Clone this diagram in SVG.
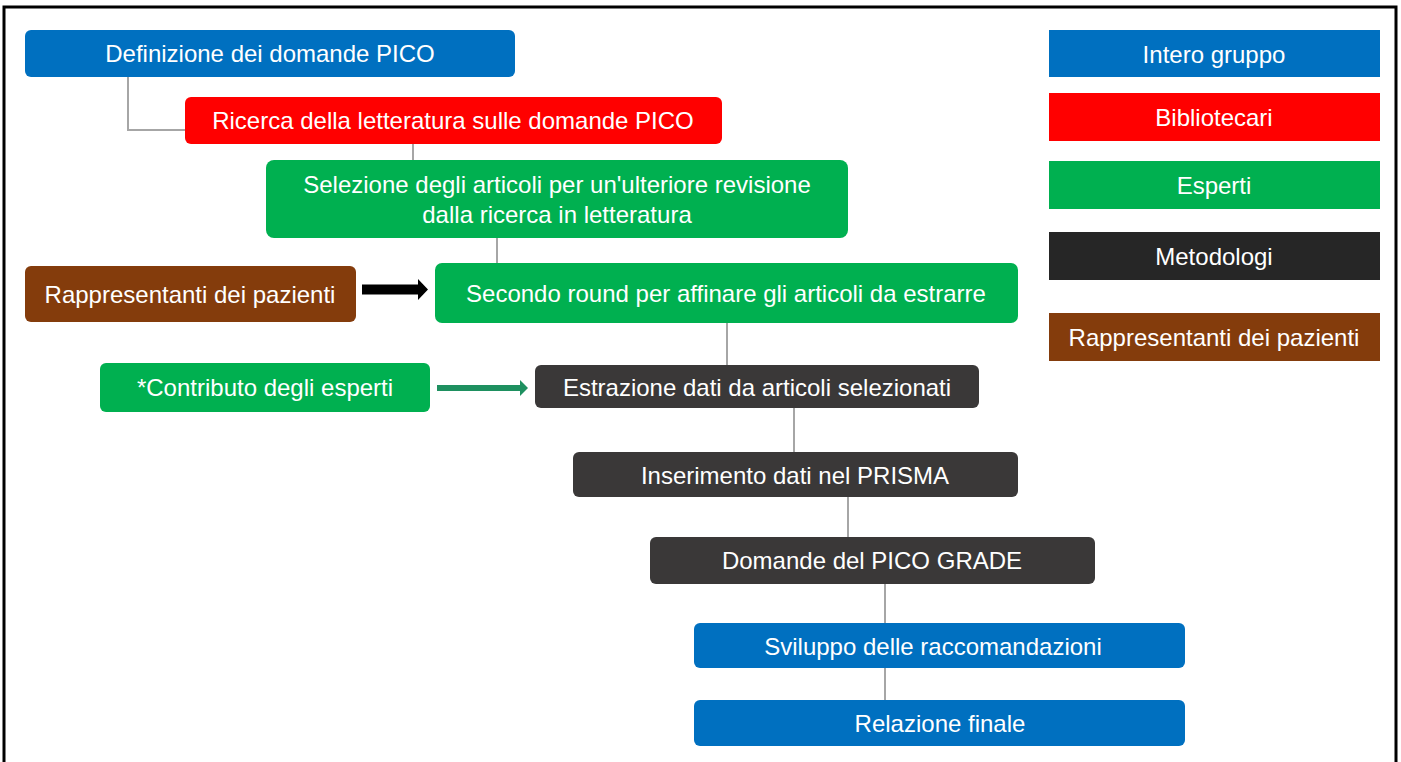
<svg xmlns="http://www.w3.org/2000/svg" width="1401" height="762" viewBox="0 0 1401 762">
<defs>
<style>
text{font-family:"Liberation Sans",Arial,sans-serif;font-size:24px;fill:#ffffff;text-anchor:middle;dominant-baseline:central}
.blue{fill:#0070c0}.red{fill:#ff0000}.green{fill:#00b050}.dark{fill:#3a3838}.black{fill:#262626}.brown{fill:#843c0c}
.conn{stroke:#a6a6a6;stroke-width:2;fill:none}
</style>
</defs>
<rect x="0" y="0" width="1401" height="762" fill="#ffffff"/>
<path d="M4,770 V7 H1396 V770" fill="none" stroke="#000000" stroke-width="3"/>

<g id="connectors">
<path class="conn" d="M128,77 V130 H185"/>
<path class="conn" d="M413,144 V172"/>
<path class="conn" d="M497,238 V268"/>
<path class="conn" d="M727,323 V368"/>
<path class="conn" d="M794,408 V452"/>
<path class="conn" d="M848,497 V537"/>
<path class="conn" d="M885,584 V623"/>
<path class="conn" d="M885,668 V700"/>
<path d="M362,284.5 H418 V279 L428,289.5 L418,300 V294.5 H362 Z" fill="#000000"/>
<path d="M437,385 H520 V380 L528,388 L520,396 V391 H437 Z" fill="#1e9060"/>
</g>

<g id="n-definizione"><rect class="blue" x="25" y="30" width="490" height="47" rx="6"/><text x="270" y="53">Definizione dei domande PICO</text></g>
<g id="n-ricerca"><rect class="red" x="185" y="97" width="537" height="47" rx="6"/><text x="453" y="120">Ricerca della letteratura sulle domande PICO</text></g>
<g id="n-selezione"><rect class="green" x="266" y="160" width="582" height="78" rx="8"/><text x="557" y="184">Selezione degli articoli per un'ulteriore revisione</text><text x="557" y="214">dalla ricerca in letteratura</text></g>
<g id="n-rappresentanti"><rect class="brown" x="25" y="266" width="331" height="56" rx="6"/><text x="190" y="294">Rappresentanti dei pazienti</text></g>
<g id="n-secondo"><rect class="green" x="435" y="263" width="583" height="60" rx="7"/><text x="726" y="293">Secondo round per affinare gli articoli da estrarre</text></g>
<g id="n-contributo"><rect class="green" x="100" y="363" width="330" height="49" rx="6"/><text x="265" y="387">*Contributo degli esperti</text></g>
<g id="n-estrazione"><rect class="dark" x="535" y="365" width="444" height="43" rx="6"/><text x="757" y="387">Estrazione dati da articoli selezionati</text></g>
<g id="n-inserimento"><rect class="dark" x="573" y="452" width="445" height="45" rx="6"/><text x="795" y="475">Inserimento dati nel PRISMA</text></g>
<g id="n-domande"><rect class="dark" x="650" y="537" width="445" height="47" rx="6"/><text x="872" y="560">Domande del PICO GRADE</text></g>
<g id="n-sviluppo"><rect class="blue" x="694" y="623" width="491" height="45" rx="6"/><text x="933" y="646">Sviluppo delle raccomandazioni</text></g>
<g id="n-relazione"><rect class="blue" x="694" y="700" width="491" height="46" rx="6"/><text x="940" y="723">Relazione finale</text></g>

<g id="legend-intero"><rect class="blue" x="1049" y="30" width="331" height="47"/><text x="1214" y="54">Intero gruppo</text></g>
<g id="legend-bibliotecari"><rect class="red" x="1049" y="93" width="331" height="48"/><text x="1214" y="117">Bibliotecari</text></g>
<g id="legend-esperti"><rect class="green" x="1049" y="161" width="331" height="48"/><text x="1214" y="185">Esperti</text></g>
<g id="legend-metodologi"><rect class="black" x="1049" y="232" width="331" height="48"/><text x="1214" y="256">Metodologi</text></g>
<g id="legend-rappresentanti"><rect class="brown" x="1049" y="313" width="331" height="48"/><text x="1214" y="337">Rappresentanti dei pazienti</text></g>
</svg>
